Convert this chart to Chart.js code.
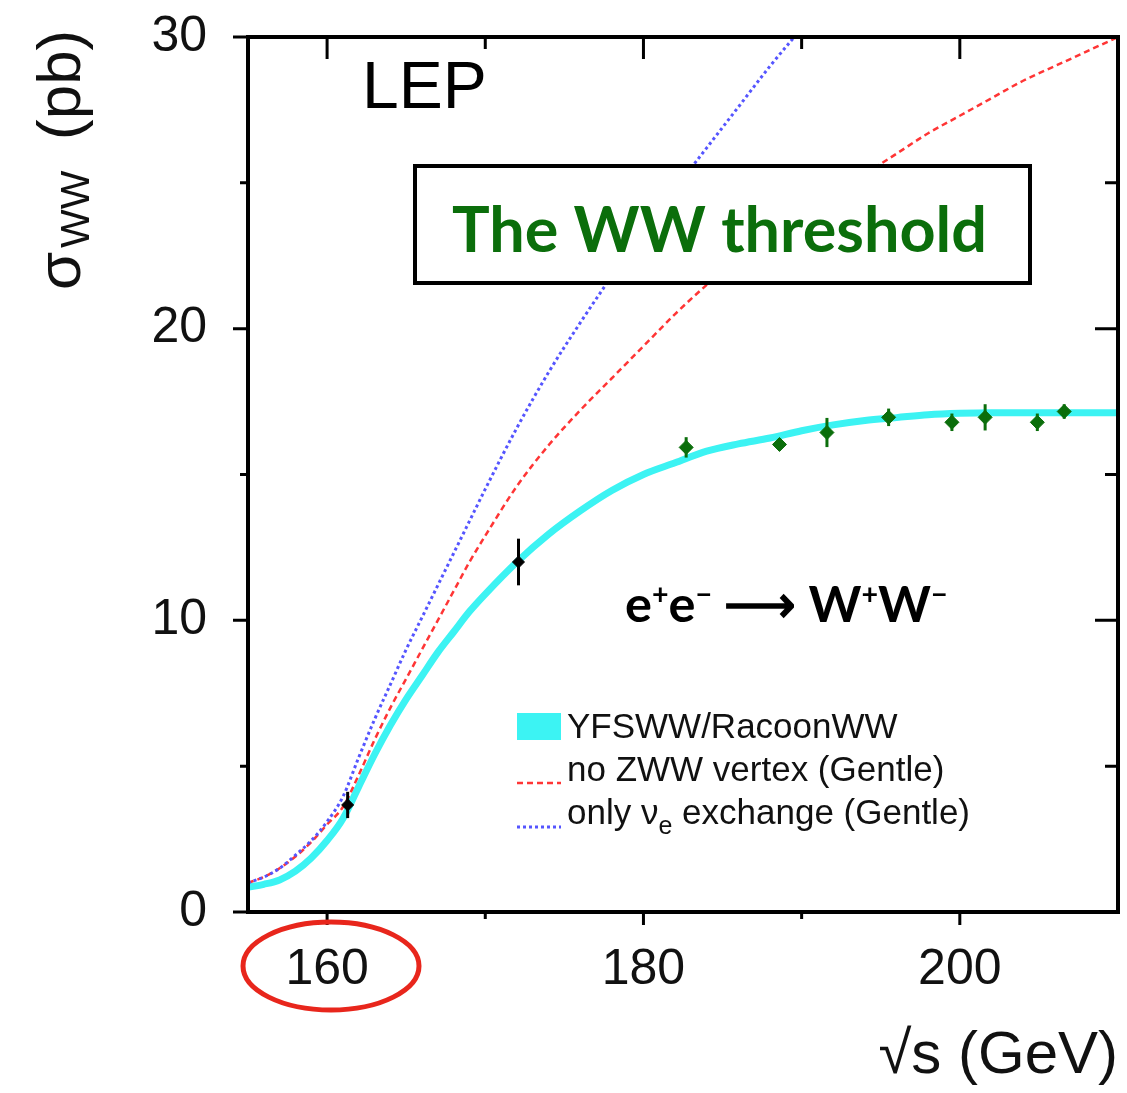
<!DOCTYPE html>
<html>
<head>
<meta charset="utf-8">
<title>The WW threshold</title>
<script src="https://cdn.jsdelivr.net/npm/chart.js@4.4.1/dist/chart.umd.min.js"></script>
<style>
  html, body { margin: 0; padding: 0; background: #fff; }
  canvas { display: block; }
</style>
</head>
<body>
<canvas id="wwChart" width="1127" height="1093"></canvas>
<script>
"use strict";

// sqrt(s) grid in GeV shared by the three theory curves
const curveEnergy = [155, 156, 157, 158, 159, 160, 161, 162, 163, 164, 165, 166, 167, 168, 169, 170,
  172, 174, 176, 178, 180, 182, 184, 186, 188, 190, 192, 194, 196, 198, 200, 202, 204, 206, 208, 210];
// sigma_WW in pb
const yfswwXsec = [0.85, 0.95, 1.1, 1.4, 1.85, 2.45, 3.2, 4.3, 5.4, 6.4, 7.3, 8.1, 8.9, 9.6, 10.3, 10.9,
  12.0, 12.95, 13.75, 14.45, 15.0, 15.4, 15.8, 16.05, 16.25, 16.5, 16.7, 16.85, 16.95, 17.05, 17.1, 17.12, 17.12, 17.12, 17.12, 17.12];
const noZwwXsec = [1.0, 1.2, 1.5, 1.9, 2.4, 3.0, 3.6, 4.7, 5.9, 7.0, 8.0, 9.0, 10.0, 11.0, 12.0, 12.9,
  14.6, 16.0, 17.2, 18.3, 19.4, 20.5, 21.5, 22.4, 23.2, 23.9, 24.6, 25.3, 26.0, 26.7, 27.3, 27.9, 28.5, 29.0, 29.5, 30.0];
// leaves the frame near 190 GeV, so it stops early
const nuExchangeXsec = [1.0, 1.2, 1.5, 1.95, 2.45, 3.1, 3.95, 5.3, 6.6, 7.8, 9.0, 10.1, 11.2, 12.3, 13.4, 14.5,
  16.6, 18.5, 20.2, 21.8, 23.3, 24.8, 26.2, 27.6, 29.0, 30.3, 31.6];

// LEP measurements (black: threshold runs, green: higher energies)
const thresholdEnergy = [161.3, 172.1];
const thresholdXsec = [3.67, 12.0];
const thresholdErr = [0.45, 0.8];
const highEnergy = [182.7, 188.6, 191.6, 195.5, 199.5, 201.6, 204.9, 206.6];
const highXsec = [15.93, 16.03, 16.44, 16.96, 16.79, 16.96, 16.79, 17.16];
const highErr = [0.35, 0.2, 0.5, 0.3, 0.3, 0.45, 0.3, 0.25];

// axis ticks
const xTickValues = [160, 170, 180, 190, 200];
const xLabelValues = [160, 180, 200];
const yTickValues = [0, 5, 10, 15, 20, 25, 30];
const yLabelValues = [0, 10, 20, 30];

const SANS = "'Liberation Sans', Arial, sans-serif";
const CALIBRI = "Lato, 'Open Sans', sans-serif";
const CYAN = "#3cf3f3";
const RED = "#ff3535";
const BLUE = "#5555ff";
const GREEN = "#0b6e0b";

function toPoints(xs, ys) {
  return ys.map((v, i) => ({ x: xs[i], y: v }));
}

function fontOf(run, k) {
  return (run.weight || "normal") + " " + (run.size * k) + "px " + (run.family || SANS);
}

function runsWidth(ctx, runs, k) {
  let w = 0;
  for (const r of runs) {
    ctx.font = fontOf(r, k);
    w += ctx.measureText(r.t).width;
  }
  return w;
}

function drawRuns(ctx, runs, x, y, k) {
  for (const r of runs) {
    ctx.font = fontOf(r, k);
    ctx.fillText(r.t, x, y + (r.dy || 0) * k);
    x += ctx.measureText(r.t).width;
  }
}

function drawErrorBars(ctx, xs, ys, errs, color, sx, sy) {
  ctx.save();
  ctx.strokeStyle = color;
  ctx.lineWidth = 3;
  for (let i = 0; i < xs.length; i++) {
    const px = sx.getPixelForValue(xs[i]);
    ctx.beginPath();
    ctx.moveTo(px, sy.getPixelForValue(ys[i] - errs[i]));
    ctx.lineTo(px, sy.getPixelForValue(ys[i] + errs[i]));
    ctx.stroke();
  }
  ctx.restore();
}

// no extra room around the axes: the plot box is placed by layout.padding
function fixPadding(s) {
  s.paddingTop = 0;
  s.paddingBottom = 0;
  s.paddingLeft = 0;
  s.paddingRight = 0;
}

const decorations = {
  id: "decorations",
  afterDatasetsDraw(chart) {
    const { ctx, scales } = chart;
    drawErrorBars(ctx, thresholdEnergy, thresholdXsec, thresholdErr, "#000", scales.x, scales.y);
    drawErrorBars(ctx, highEnergy, highXsec, highErr, GREEN, scales.x, scales.y);
  },
  afterDraw(chart) {
    const { ctx, chartArea: a, scales } = chart;
    ctx.save();

    // frame
    ctx.strokeStyle = "#000";
    ctx.lineWidth = 4;
    ctx.strokeRect(a.left, a.top, a.right - a.left, a.bottom - a.top);

    // ticks: outside on bottom/left, inside on top/right
    ctx.lineWidth = 3;
    ctx.beginPath();
    for (const v of xTickValues) {
      const px = scales.x.getPixelForValue(v);
      const major = xLabelValues.includes(v);
      ctx.moveTo(px, a.bottom); ctx.lineTo(px, a.bottom + (major ? 13 : 7));
      ctx.moveTo(px, a.top); ctx.lineTo(px, a.top + (major ? 22 : 12));
    }
    for (const v of yTickValues) {
      const py = scales.y.getPixelForValue(v);
      const major = yLabelValues.includes(v);
      ctx.moveTo(a.left, py); ctx.lineTo(a.left - (major ? 15 : 8), py);
      ctx.moveTo(a.right, py); ctx.lineTo(a.right - (major ? 23 : 13), py);
    }
    ctx.stroke();

    ctx.fillStyle = "#000";
    ctx.textBaseline = "alphabetic";
    ctx.textAlign = "left";

    // LEP
    ctx.font = "66px " + SANS;
    ctx.fillText("LEP", 362, 108);

    // title box
    ctx.fillStyle = "#fff";
    ctx.fillRect(415, 166, 615, 117);
    ctx.lineWidth = 4;
    ctx.strokeRect(415, 166, 615, 117);
    const titleRuns = [{ t: "The WW threshold", size: 60, weight: "bold", family: CALIBRI }];
    const kt = 535 / runsWidth(ctx, titleRuns, 1);
    ctx.fillStyle = GREEN;
    drawRuns(ctx, titleRuns, 452, 252, kt);

    // reaction
    const sup = -22;
    const reaction = [
      { t: "e", size: 60, weight: "bold", family: CALIBRI },
      { t: "+", size: 34, weight: "bold", family: CALIBRI, dy: sup },
      { t: "e", size: 60, weight: "bold", family: CALIBRI },
      { t: "\u2212", size: 34, weight: "bold", family: CALIBRI, dy: sup },
      { t: " \u27F6 ", size: 60, weight: "bold", family: CALIBRI },
      { t: "W", size: 60, weight: "bold", family: CALIBRI },
      { t: "+", size: 34, weight: "bold", family: CALIBRI, dy: sup },
      { t: "W", size: 60, weight: "bold", family: CALIBRI },
      { t: "\u2212", size: 34, weight: "bold", family: CALIBRI, dy: sup }
    ];
    const kr = 323 / runsWidth(ctx, reaction, 1);
    ctx.fillStyle = "#000";
    drawRuns(ctx, reaction, 625, 622, kr);

    // legend
    ctx.fillStyle = CYAN;
    ctx.fillRect(517, 713, 44, 27);
    ctx.lineWidth = 2.5;
    ctx.strokeStyle = RED;
    ctx.setLineDash([6, 4]);
    ctx.beginPath(); ctx.moveTo(517, 783); ctx.lineTo(561, 783); ctx.stroke();
    ctx.strokeStyle = BLUE;
    ctx.lineWidth = 3;
    ctx.setLineDash([3, 3]);
    ctx.beginPath(); ctx.moveTo(517, 827); ctx.lineTo(561, 827); ctx.stroke();
    ctx.setLineDash([]);
    ctx.fillStyle = "#111";
    drawRuns(ctx, [{ t: "YFSWW/RacoonWW", size: 35 }], 567, 738, 1);
    drawRuns(ctx, [{ t: "no ZWW vertex (Gentle)", size: 35 }], 567, 781, 1);
    drawRuns(ctx, [
      { t: "only \u03BD", size: 35 },
      { t: "e", size: 25, dy: 10 },
      { t: " exchange (Gentle)", size: 35 }
    ], 567, 824, 1);

    // axis titles
    ctx.fillStyle = "#111";
    ctx.font = "60px " + SANS;
    ctx.textAlign = "right";
    ctx.fillText("\u221As (GeV)", 1118, 1073);
    ctx.textAlign = "left";

    ctx.save();
    ctx.translate(80, 290);
    ctx.rotate(-Math.PI / 2);
    ctx.font = "62px " + SANS;
    ctx.fillText("\u03C3", 0, 0);
    ctx.font = "41px " + SANS;
    ctx.fillText("WW", 42, 9);
    ctx.font = "62px " + SANS;
    ctx.fillText("(pb)", 150, 0);
    ctx.restore();

    // red ellipse around the 160 label
    ctx.strokeStyle = "#e8261c";
    ctx.lineWidth = 5;
    ctx.beginPath();
    ctx.ellipse(331, 966, 88, 44, 0, 0, Math.PI * 2);
    ctx.stroke();

    ctx.restore();
  }
};

new Chart(document.getElementById("wwChart"), {
  type: "scatter",
  data: {
    datasets: [
      {
        label: "YFSWW/RacoonWW",
        data: toPoints(curveEnergy, yfswwXsec),
        showLine: true,
        borderColor: CYAN,
        borderWidth: 7,
        pointRadius: 0,
        cubicInterpolationMode: "monotone",
        clip: 0,
        order: 4
      },
      {
        label: "no ZWW vertex (Gentle)",
        data: toPoints(curveEnergy, noZwwXsec),
        showLine: true,
        borderColor: RED,
        borderWidth: 2.5,
        borderDash: [6, 4],
        pointRadius: 0,
        cubicInterpolationMode: "monotone",
        clip: 0,
        order: 3
      },
      {
        label: "only \u03BDe exchange (Gentle)",
        data: toPoints(curveEnergy, nuExchangeXsec),
        showLine: true,
        borderColor: BLUE,
        borderWidth: 3,
        borderDash: [3, 3],
        pointRadius: 0,
        cubicInterpolationMode: "monotone",
        clip: 0,
        order: 2
      },
      {
        label: "LEP threshold",
        data: toPoints(thresholdEnergy, thresholdXsec),
        pointStyle: "rectRot",
        pointRadius: 6,
        backgroundColor: "#000",
        borderColor: "#000",
        order: 1
      },
      {
        label: "LEP",
        data: toPoints(highEnergy, highXsec),
        pointStyle: "rectRot",
        pointRadius: 7,
        backgroundColor: GREEN,
        borderColor: GREEN,
        order: 0
      }
    ]
  },
  options: {
    responsive: false,
    animation: false,
    devicePixelRatio: 1,
    layout: { padding: { top: 37, right: 9, left: 0, bottom: 0 } },
    plugins: { legend: { display: false }, tooltip: { enabled: false } },
    scales: {
      x: {
        type: "linear",
        min: 155,
        max: 210,
        grid: { display: false },
        border: { display: false },
        afterBuildTicks: (s) => { s.ticks = xLabelValues.map((v) => ({ value: v })); },
        afterFit: (s) => { s.height = 181; fixPadding(s); },
        ticks: { font: { family: SANS, size: 50 }, color: "#111", padding: 20, maxRotation: 0, autoSkip: false }
      },
      y: {
        type: "linear",
        min: 0,
        max: 30,
        grid: { display: false },
        border: { display: false },
        afterBuildTicks: (s) => { s.ticks = yLabelValues.map((v) => ({ value: v })); },
        afterFit: (s) => { s.width = 248; fixPadding(s); },
        ticks: { font: { family: SANS, size: 50 }, color: "#111", padding: 33, autoSkip: false }
      }
    }
  },
  plugins: [decorations]
});
</script>
</body>
</html>
